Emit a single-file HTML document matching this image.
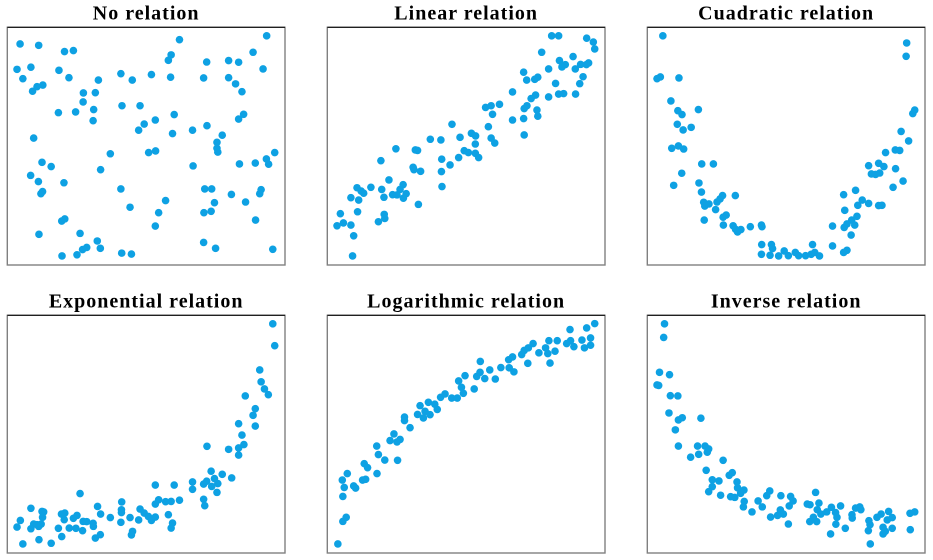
<!DOCTYPE html>
<html><head><meta charset="utf-8"><style>
html,body{margin:0;padding:0;background:#fff;}
svg{display:block;}
text{font-family:"Liberation Serif",serif;font-weight:bold;font-size:20px;letter-spacing:1px;fill:#000;}
</style></head><body>
<svg id="chart" width="933" height="560" viewBox="0 0 933 560"></svg>
<script>
const titles = ["No relation","Linear relation","Cuadratic relation","Exponential relation","Logarithmic relation","Inverse relation"];
const noRelation = [[4.6,93],[11.3,92.4],[20.6,89.8],[23.8,90.2],[62,94.8],[93.4,96.4],[59,88.4],[58,86.1],[71.8,85.4],[79.7,86],[83.3,85.3],[88.5,89.5],[92.1,82.5],[3.5,82.3],[8.5,83.2],[18.6,81.9],[5.6,78.4],[22.2,78.8],[32.8,77.8],[40.9,80.5],[45,77.8],[51.9,80.1],[58.8,79],[70.7,78.7],[79.7,78.8],[82.2,76.2],[84.5,72.9],[9.1,73.1],[10.7,75],[12.8,75.7],[27.4,72.4],[31.7,72.5],[27.3,68.6],[18.4,64.1],[24.6,64.4],[31.1,65.4],[30.9,60.7],[41.3,67],[47.8,67],[60.1,63.3],[53.3,61],[49.3,59.3],[47.3,56.7],[59.5,55.3],[66.7,56.7],[71.9,58.6],[83.3,61.4],[85.1,63.4],[77.4,54.6],[75.5,51.6],[75.5,49.1],[75.8,47.5],[9.5,53.4],[37.1,46.8],[50.9,47.3],[53.4,48],[12.5,43.2],[15.8,41.4],[33.6,40.1],[66.9,41.7],[83.6,42.5],[89.3,42.9],[93.3,44.6],[94.1,42.4],[96.3,47.3],[8.4,37.7],[11.2,35.1],[20.4,34.6],[12.7,30.9],[12.1,30],[40.9,32],[71.1,32],[73.6,32],[80.7,29.7],[91.4,31.7],[90.9,30],[85.8,26.5],[74.6,26.2],[57,27.1],[44.2,24.3],[54.5,22],[70.8,22],[73.4,22.6],[89.4,18.9],[19.6,18.5],[20.7,19.4],[53.3,16.4],[11.4,12.9],[26.2,13.3],[32.4,10.1],[33.5,7],[27.1,6.5],[28.6,7.4],[70.7,9.5],[75,7],[95.6,6.6],[19.7,3.8],[25.1,4.3],[41.2,5],[44.7,4.6]];
const linear = [[80.8,96.4],[83.3,96.4],[93.4,95.4],[95.8,93.8],[96.3,90.9],[77.2,89.5],[88.5,87.7],[83.6,86],[85.7,84.3],[84.5,83.3],[91.2,84.4],[93.3,84.3],[94.1,85],[89.3,82.5],[79.7,82.5],[70.7,81.1],[71.8,77.8],[74.7,78.1],[75.8,79],[92.1,79.2],[90.9,76.3],[82.2,76.4],[66.7,72.8],[83.3,71.9],[85.1,72.1],[89.4,71.9],[79.7,70.7],[75,71.5],[73.4,70],[71.9,67],[70.9,65.8],[75.5,65.2],[75.8,62.6],[57,66.3],[59,67],[62,67.6],[59.5,63.4],[66.7,61],[70.7,61.6],[70.9,54.7],[58,58.2],[44.9,59.2],[51.9,55.4],[53.4,54.3],[47.8,53.7],[59,53.4],[60.3,51.3],[37.1,52.9],[40.9,52.6],[53.3,50.9],[49.3,48.1],[50.8,47.3],[53.3,47],[54.5,45.2],[47.3,45.2],[41.2,44.5],[44.2,42.1],[41.1,39.3],[41.3,33],[24.7,48.9],[31.7,48.4],[32.5,48.2],[19.3,43.9],[30.9,41.1],[31.2,40.1],[33.6,39.4],[22.2,35.8],[15.7,32.7],[10.7,32.5],[12.2,31.1],[13.1,30.2],[19.6,31.8],[20.4,28.5],[27.3,33.8],[26.2,31.8],[23.5,29.6],[25.1,29.5],[27.4,28.1],[28.4,30],[8.5,28.3],[11.3,27.3],[32.8,25.5],[10.9,22.4],[4.7,21.6],[20.5,21.3],[20.7,19.6],[18.4,18.2],[3.5,16.5],[5.8,17.7],[8.5,16.8],[9.5,12.3],[9.1,3.8]];
const quadratic = [[5.6,96.4],[93.4,93.4],[93.2,87.8],[3.5,78.4],[4.7,79.1],[11.4,78.7],[8.5,69],[11,64.9],[12.5,63.3],[18.4,65.4],[10.8,59.2],[12.9,56.8],[15.8,57.9],[8.8,49.1],[11.2,50.1],[13.1,48.8],[19.6,42.5],[23.8,42.5],[12.4,38.6],[9.5,33.5],[18.6,34.5],[19.5,30.7],[20.3,26.4],[20.7,24.8],[22.2,25.7],[25.1,26.5],[27.1,29.2],[26.2,27.8],[31.7,29.2],[24.6,23.3],[27.3,20.1],[28.4,21],[20.5,18.9],[27.4,16.8],[30.9,16.5],[31.8,15],[33.7,14.9],[32.5,13.9],[37.1,16.1],[41.1,16.8],[41.3,16.1],[41.2,8.6],[44.7,8.6],[45.1,6.9],[41.1,4.5],[44.2,4.1],[47.3,3.8],[49.3,5.9],[50.8,3.9],[53.3,5.3],[54.5,3.9],[57,3.9],[59,4.5],[59.5,8.6],[60.3,5.3],[62,3.8],[66.7,16.4],[66.7,8],[70.7,5.3],[71.9,6.2],[70.7,29.6],[71.1,23],[70.9,15.8],[71.9,17.3],[73.4,12.6],[73.6,18.9],[74.7,16.8],[75.5,20.5],[75.8,25.1],[75,31.4],[77.4,27.3],[79.7,25.9],[83.3,25],[84.5,25.1],[79.7,41.8],[80.7,38.3],[82.2,38.1],[83.3,42.8],[83.7,38.7],[85.2,41.4],[85.8,47.3],[89.3,48.4],[90.9,48.2],[89.4,40.5],[88.5,32.7],[92.1,35.3],[91.4,56.2],[94.1,52.2],[95.6,63.7],[96.3,65.2]];
const exponential = [[95.6,96.4],[96.3,87.2],[90.9,77],[91.4,72],[92.6,69],[94,66.6],[85.7,66.1],[89.3,60.7],[88.5,57.9],[89.3,53.4],[83.3,54.4],[84.5,49.6],[85.2,45.6],[83.3,44.2],[79.7,43.6],[83.3,41.2],[71.9,44.9],[73.4,34.4],[77.4,33.1],[80.8,31.6],[74.6,31.3],[70.7,29],[71.8,30.2],[75.8,29.2],[73.6,28],[75.5,25.5],[66.7,29.9],[66.7,26.8],[70.7,22.6],[71.1,19.9],[60.1,28.6],[53.3,28.6],[62,22.2],[59,21.7],[57,21.6],[54.5,22.4],[53.3,20.6],[26.2,25],[41.2,21.5],[41.1,18.2],[41.1,17],[40.9,12.9],[47.8,18.5],[49.3,16.8],[50.8,15.4],[51.9,13.7],[53.3,15.1],[44.2,14.9],[47.3,13.9],[58,16.1],[59.5,12.6],[59,10.5],[45.1,9.1],[44.7,7.6],[32.5,19.6],[33.6,16.4],[37.1,14.9],[31.7,6.3],[33.5,7.7],[8.5,18.8],[12.5,17.5],[13.1,17.3],[12.7,15],[4.7,13.7],[3.5,10.9],[9.5,12.2],[10.7,11.9],[12.2,12.2],[8.5,10.2],[11.3,11.2],[19.5,16.4],[20.7,16.8],[20.5,14],[23.8,14.6],[25.1,15.8],[27.3,13.3],[28.6,13.2],[30.9,12.5],[31,11.2],[18.4,10.4],[22.3,10.5],[24.7,10.4],[27.1,9.4],[19.6,6.9],[11.4,5.6],[5.6,3.8],[15.8,4.1]];
const logarithmic = [[3.8,3.8],[5.6,13.3],[6.8,15],[5.6,23.8],[6.1,27.6],[5.4,30.7],[7.2,33.4],[9.5,28.2],[10.2,27.3],[12.7,30.7],[13.8,31],[13.3,37.6],[14.5,35.9],[17.9,33.4],[17.8,45],[18.4,41.4],[20.7,39.1],[25.3,39],[22.6,47.3],[24,50.1],[25.1,46.7],[26.2,47.8],[27.8,57.2],[27.8,55.7],[29.8,52.7],[32.5,58.3],[33.4,62],[34.6,56.8],[35.2,59.6],[36.4,63.4],[37,58.2],[39.6,60.4],[38.7,62.6],[40.8,65.5],[42.4,66.9],[44.8,65.2],[46.8,65.2],[49,67.2],[48.3,69.7],[47.3,72.4],[49.6,74.6],[52.9,69],[53.8,74.3],[55,76],[55.1,80.6],[56.7,73.4],[58.5,77],[60.5,73.2],[62.5,78],[65.3,81.3],[66.7,82.5],[65.5,77.9],[67.2,76.2],[70,83.5],[70.9,85.2],[72.4,86.3],[74.1,88.1],[72.2,79.8],[76.2,84.2],[78.6,86.3],[79.8,89.3],[79.4,83.9],[80.2,79.9],[82,84.9],[82.8,89.3],[86.2,88.1],[87.4,94],[87.6,89.3],[88.8,86.8],[91.7,89.6],[92.6,86.3],[93.4,94.7],[94.8,90.5],[94.8,87.4],[96.3,96.5]];
const inverse = [[6.2,96.4],[5.9,90.7],[4.4,76],[8,75],[3.5,70.7],[4.1,70.5],[8.3,66.2],[11,66.1],[7.8,58.9],[11.2,56],[12.6,56.9],[19.3,56.7],[10.1,51.8],[11.2,45],[18.1,45],[20.8,45],[22.1,43.8],[21.6,42.4],[18.5,41.5],[15.6,40.3],[27.3,39],[21.2,34.8],[29.5,32.7],[30.6,33.8],[23.4,30.8],[25.8,30.3],[23.4,27.9],[22.1,25.8],[26.4,24.3],[32.3,29.9],[32.5,27.4],[34.8,26.5],[33.6,25.1],[30,23.7],[31.5,23.4],[34.9,21.7],[34.6,19.4],[37.7,17.3],[39.9,21.9],[41.4,19.4],[43,24.1],[44.1,26.1],[48.1,24.1],[51.6,23.8],[52.5,21.9],[51.1,19.8],[44.4,15.1],[46.9,15.8],[47.9,18.1],[49,16.4],[50.8,12.2],[57.6,20.6],[60.6,25.5],[61.8,21],[58.6,20.3],[61.2,18.2],[62.5,16.4],[59.8,15],[58.5,13.2],[61,13.2],[64.6,17.3],[66.3,19.2],[67.8,17],[68.3,15],[67.9,12.1],[69.6,19.8],[66,8],[71.3,10.4],[73.7,16.1],[73.8,14.7],[75,18.9],[76.5,19.4],[76.9,18.2],[79.8,13.6],[80.2,11.9],[79.6,9.4],[82.7,15],[84.2,16.4],[86.9,17.5],[86.4,13.9],[88.2,14.9],[84.9,10.8],[84.9,8],[85.7,9.1],[88.2,10.4],[80.3,3.8],[94.6,16.7],[96.3,17.3],[94.7,9.8]];
const series = [noRelation, linear, quadratic, exponential, logarithmic, inverse];
const slugs = ["no-relation","linear","quadratic","exponential","logarithmic","inverse"];

const NS = "http://www.w3.org/2000/svg";
const svg = document.getElementById("chart");
const colX = [7.3, 327.3, 647.3], rowY = [27.3, 315.3];
const W = 277.7, H = 237.7;
function mk(tag, attrs, parent){const e=document.createElementNS(NS,tag);for(const k in attrs)e.setAttribute(k,attrs[k]);parent.appendChild(e);return e;}
series.forEach((pts, i) => {
  const x0 = colX[i%3], y0 = rowY[Math.floor(i/3)];
  const sx = v => x0 + v/100*W;
  const sy = v => y0 + H - v/100*H;
  const g = mk("g", {}, svg);
  
  
  const t = mk("text", {x: x0 + W/2, y: y0 - 8, "text-anchor": "middle"}, g);
  t.textContent = titles[i];
  
  
  const frame = mk("rect", {x: x0, y: y0, width: W, height: H, fill: "none", stroke: "#808080", "stroke-width": 1.4}, g);
  
  
  const top = mk("line", {x1: x0, y1: y0, x2: x0+W, y2: y0, stroke: "#000", "stroke-width": 1}, g);
  
  
  pts.forEach(p => {
    const c = mk("circle", {cx: sx(p[0]), cy: sy(p[1]), r: 3.8, fill: "#0ea1e3"}, g);
    
    
  });
});
</script>
</body></html>
